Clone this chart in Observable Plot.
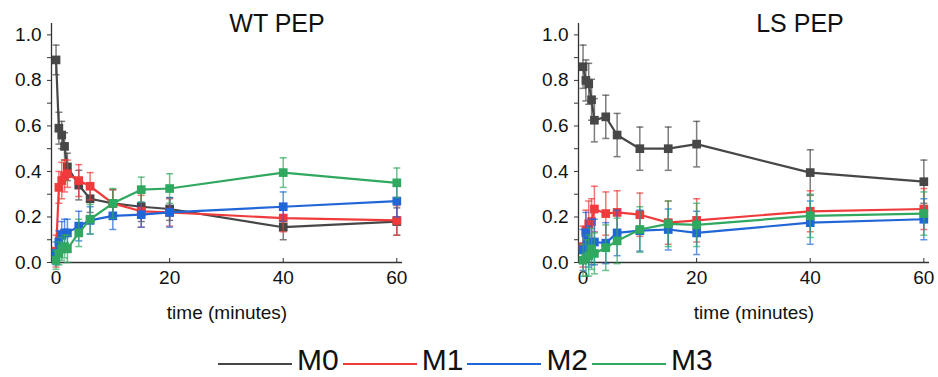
<!DOCTYPE html>
<html>
<head>
<meta charset="utf-8">
<script src="https://cdn.jsdelivr.net/npm/d3@7"></script>
<script src="https://cdn.jsdelivr.net/npm/@observablehq/plot@0.6"></script>
<style>
  body { margin: 0; background: #fff; font-family: Arial, "Liberation Sans", sans-serif; }
  #wrap { position: relative; width: 938px; height: 377px; background: #fff; }
  .panel { position: absolute; top: 0; }
  .panel svg text { font-size: 19px !important; fill: #111; }
  .title { position: absolute; top: 9px; font-size: 25px; color: #111; transform: translateX(-50%); white-space: nowrap; }
  .legend { position: absolute; left: 218px; top: 343px; display: flex; align-items: center; }
  .legend .item { display: flex; align-items: center; }
  .legend .swatch { width: 74px; height: 2.5px; margin-right: 5px; position: relative; top: 4px; }
  .legend .lab { font-size: 30px; color: #111; margin-right: 4px; line-height: normal; }
</style>
</head>
<body>
<div id="wrap"></div>
<script>
// ---- data ----
const times = [0, 0.5, 1, 1.5, 2, 4, 6, 10, 15, 20, 40, 60];
const seriesNames = ["M0", "M1", "M2", "M3"];
const seriesColors = ["#474747", "#ef3b3b", "#2166d6", "#30a860"];
const panelTitles = ["WT PEP", "LS PEP"];
const xLabel = "time (minutes)";
const yTicks = [0, 0.1, 0.2, 0.3, 0.4, 0.5, 0.6, 0.7, 0.8, 0.9, 1.0];
const xTicks = [0, 20, 40, 60];

// WT PEP means
const wtM0 = [0.89, 0.59, 0.56, 0.51, 0.42, 0.34, 0.28, 0.26, 0.245, 0.235, 0.155, 0.18];
const wtM1 = [0.05, 0.33, 0.36, 0.38, 0.39, 0.36, 0.335, 0.26, 0.225, 0.22, 0.195, 0.185];
const wtM2 = [0.04, 0.09, 0.12, 0.13, 0.13, 0.16, 0.185, 0.205, 0.21, 0.22, 0.245, 0.27];
const wtM3 = [0.01, 0.04, 0.06, 0.07, 0.06, 0.13, 0.19, 0.26, 0.32, 0.325, 0.395, 0.35];
// WT PEP error (half-width)
const wtM0e = [0.065, 0.07, 0.06, 0.06, 0.06, 0.065, 0.06, 0.06, 0.065, 0.05, 0.055, 0.06];
const wtM1e = [0.07, 0.07, 0.08, 0.07, 0.06, 0.07, 0.06, 0.06, 0.07, 0.06, 0.06, 0.065];
const wtM2e = [0.05, 0.05, 0.06, 0.06, 0.06, 0.065, 0.06, 0.06, 0.055, 0.065, 0.065, 0.07];
const wtM3e = [0.04, 0.05, 0.05, 0.05, 0.06, 0.06, 0.065, 0.065, 0.055, 0.065, 0.065, 0.065];

// LS PEP means
const lsM0 = [0.86, 0.80, 0.785, 0.715, 0.625, 0.64, 0.56, 0.50, 0.50, 0.52, 0.395, 0.355];
const lsM1 = [0.07, 0.14, 0.17, 0.18, 0.235, 0.215, 0.22, 0.21, 0.175, 0.185, 0.225, 0.235];
const lsM2 = [0.055, 0.13, 0.07, 0.09, 0.09, 0.085, 0.13, 0.14, 0.145, 0.13, 0.175, 0.19];
const lsM3 = [0.01, 0.02, 0.03, 0.06, 0.04, 0.065, 0.095, 0.145, 0.17, 0.165, 0.205, 0.215];
// LS PEP error (half-width)
const lsM0e = [0.095, 0.09, 0.09, 0.09, 0.095, 0.095, 0.095, 0.095, 0.095, 0.1, 0.1, 0.095];
const lsM1e = [0.09, 0.09, 0.1, 0.1, 0.1, 0.095, 0.095, 0.095, 0.095, 0.095, 0.09, 0.09];
const lsM2e = [0.09, 0.09, 0.09, 0.1, 0.1, 0.09, 0.1, 0.09, 0.09, 0.095, 0.095, 0.09];
const lsM3e = [0.07, 0.08, 0.09, 0.09, 0.09, 0.1, 0.1, 0.1, 0.1, 0.095, 0.095, 0.095];

// ---- build tables ----
function buildRows(vals, errs) {
  const rows = [];
  seriesNames.forEach((s, i) => {
    times.forEach((t, j) => {
      rows.push({ s, t, v: vals[i][j], lo: vals[i][j] - errs[i][j], hi: vals[i][j] + errs[i][j] });
    });
  });
  return rows;
}
const panels = [
  buildRows([wtM0, wtM1, wtM2, wtM3], [wtM0e, wtM1e, wtM2e, wtM3e]),
  buildRows([lsM0, lsM1, lsM2, lsM3], [lsM0e, lsM1e, lsM2e, lsM3e])
];

// cap symbol: horizontal line of half-width r
const capSymbol = {
  draw(context, size) {
    const w = Math.sqrt(size / Math.PI);
    context.moveTo(-w, 0);
    context.lineTo(w, 0);
  }
};

const xDomain = [-0.8, 61];
const yDomain = [0, 1.05];

function makePlot(rows) {
  const marks = [
    Plot.ruleX([xDomain[0]], { stroke: "#333", strokeWidth: 1.3 }),
    Plot.ruleY([0], { stroke: "#333", strokeWidth: 1.3 }),
    Plot.axisY({
      ticks: yTicks, tickSize: 4, tickPadding: 6, stroke: "#333", fontSize: 19,
      tickFormat: d => (Math.round(d * 10) % 2 === 0 ? d.toFixed(1) : ""),
      label: null
    }),
    Plot.axisX({
      ticks: xTicks, tickSize: -4, tickPadding: 12, stroke: "#333", fontSize: 19,
      tickFormat: d => String(d),
      label: xLabel, labelAnchor: "center", labelOffset: 56, labelArrow: "none"
    })
  ];
  seriesNames.forEach(s => {
    const d = rows.filter(r => r.s === s);
    marks.push(
      Plot.ruleX(d, { x: "t", y1: "lo", y2: "hi", stroke: "s", strokeOpacity: 0.7, strokeWidth: 1.5 }),
      Plot.dot(d, { x: "t", y: "hi", symbol: capSymbol, r: 3.5, stroke: "s", strokeOpacity: 0.7, strokeWidth: 1.5, fill: "none" }),
      Plot.dot(d, { x: "t", y: "lo", symbol: capSymbol, r: 3.5, stroke: "s", strokeOpacity: 0.7, strokeWidth: 1.5, fill: "none" }),
      Plot.line(d, { x: "t", y: "v", stroke: "s", strokeWidth: 2.2 }),
      Plot.dot(d, { x: "t", y: "v", symbol: "square", r: 4.9, fill: "s", stroke: "none" })
    );
  });
  return Plot.plot({
    width: 411, height: 330,
    marginLeft: 51, marginRight: 9, marginTop: 23, marginBottom: 68,
    x: { domain: xDomain },
    y: { domain: yDomain },
    color: { domain: seriesNames, range: seriesColors },
    style: { fontFamily: "Arial, 'Liberation Sans', sans-serif", fontSize: "19px", color: "#111", background: "transparent", overflow: "visible" },
    marks
  });
}

const wrap = document.getElementById("wrap");
const lefts = [0, 527];
const titleCenters = [277, 800];
panels.forEach((rows, i) => {
  const div = document.createElement("div");
  div.className = "panel";
  div.style.left = lefts[i] + "px";
  div.appendChild(makePlot(rows));
  wrap.appendChild(div);
  const t = document.createElement("div");
  t.className = "title";
  t.style.left = titleCenters[i] + "px";
  t.textContent = panelTitles[i];
  wrap.appendChild(t);
});

// legend
const leg = document.createElement("div");
leg.className = "legend";
seriesNames.forEach((s, i) => {
  const item = document.createElement("div");
  item.className = "item";
  const sw = document.createElement("div");
  sw.className = "swatch";
  sw.style.background = seriesColors[i];
  const lab = document.createElement("span");
  lab.className = "lab";
  lab.textContent = s;
  item.appendChild(sw);
  item.appendChild(lab);
  leg.appendChild(item);
});
wrap.appendChild(leg);
</script>
</body>
</html>
